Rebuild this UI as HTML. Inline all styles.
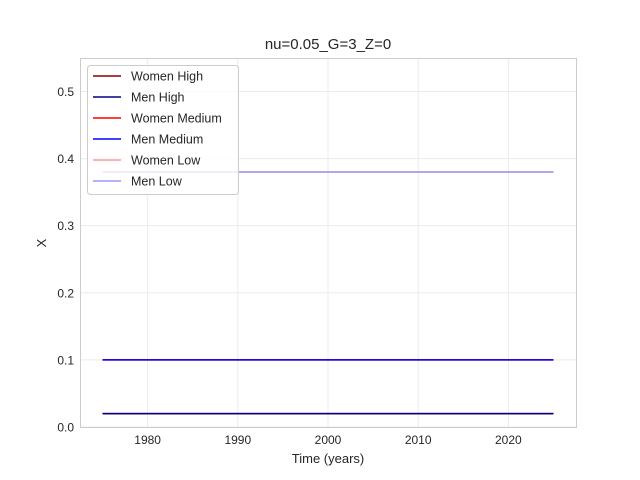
<!DOCTYPE html>
<html><head><meta charset="utf-8"><style>
body{margin:0;background:#fff;}
svg{display:block;font-family:"Liberation Sans","DejaVu Sans",sans-serif;}
</style></head><body>
<svg id="chart" width="640" height="480" viewBox="0 0 640 480">
<rect x="0" y="0" width="640" height="480" fill="#fff"/>
<g id="grid"></g><g id="lines"></g><g id="ticks"></g>
<rect x="80.5" y="58.5" width="496" height="369" fill="none" stroke="#ccc" stroke-width="1"/>
<text x="328" y="49" text-anchor="middle" font-size="15" fill="#262626">nu=0.05_G=3_Z=0</text>
<text x="328" y="463" text-anchor="middle" font-size="13" fill="#262626">Time (years)</text>
<text x="46" y="243" text-anchor="middle" font-size="13" fill="#262626" transform="rotate(-90 46 243)">X</text>
<g id="legend"></g>
</svg>
<script>
const years = [1975, 2025];
const seriesNames = ["Women High","Men High","Women Medium","Men Medium","Women Low","Men Low"];
const womenHigh = [0.02, 0.02];
const menHigh = [0.02, 0.02];
const womenMedium = [0.1, 0.1];
const menMedium = [0.1, 0.1];
const womenLow = [0.38, 0.38];
const menLow = [0.38, 0.38];
const xTicks = [1980, 1990, 2000, 2010, 2020];
const yTicks = [0, 0.1, 0.2, 0.3, 0.4, 0.5];
const yTickLabels = ["0.0","0.1","0.2","0.3","0.4","0.5"];

const colors = ["#8b0000","#000080","#ff0000","#0000ff","#ff9999","#9999ff"];
const seriesData = [womenHigh, menHigh, womenMedium, menMedium, womenLow, menLow];
const X0=80, X1=576, Y0=427, Y1=58, XMIN=1972.5, XMAX=2027.5, YMIN=0, YMAX=0.55;
const sx = v => X0 + (v-XMIN)/(XMAX-XMIN)*(X1-X0);
const sy = v => Y0 - (v-YMIN)/(YMAX-YMIN)*(Y0-Y1);
const NS="http://www.w3.org/2000/svg";
function mk(tag, attrs, parent){const e=document.createElementNS(NS,tag);for(const k in attrs)e.setAttribute(k,attrs[k]);parent.appendChild(e);return e;}
const grid=document.getElementById('grid'), ticks=document.getElementById('ticks'), lines=document.getElementById('lines'), legend=document.getElementById('legend');
xTicks.forEach(t=>{
  const l=mk('line',{x1:sx(t),x2:sx(t),y1:Y1,y2:Y0,stroke:'#ebebeb','stroke-width':1},grid);
  
  
  const tx=mk('text',{x:sx(t),y:Y0+17,'text-anchor':'middle','font-size':12,fill:'#262626'},ticks);
  tx.textContent=t;
  
  
});
yTicks.forEach((t,i)=>{
  const l=mk('line',{x1:X0,x2:X1,y1:sy(t),y2:sy(t),stroke:'#ebebeb','stroke-width':1},grid);
  
  
  const tx=mk('text',{x:X0-6,y:sy(t)+4.5,'text-anchor':'end','font-size':12,fill:'#262626'},ticks);
  tx.textContent=yTickLabels[i];
  
  
});
seriesData.forEach((d,i)=>{
  const pts=d.map((v,j)=>sx(years[j])+','+sy(v)).join(' ');
  const p=mk('polyline',{points:pts,fill:'none',stroke:colors[i],'stroke-width':1.5},lines);
  
  
});
mk('rect',{x:87.5,y:65.5,width:151,height:129,rx:3,fill:'#fff','fill-opacity':0.8,stroke:'#ccc'},legend);
seriesNames.forEach((n,i)=>{
  const y=76+i*21;
  const g=mk('g',{},legend);
  
  
  mk('line',{x1:93,x2:121,y1:y,y2:y,stroke:colors[i],'stroke-width':1.5},g);
  const t=mk('text',{x:131,y:y+4.5,'font-size':12.5,fill:'#262626'},g);
  t.textContent=n;
});
</script>
</body></html>
